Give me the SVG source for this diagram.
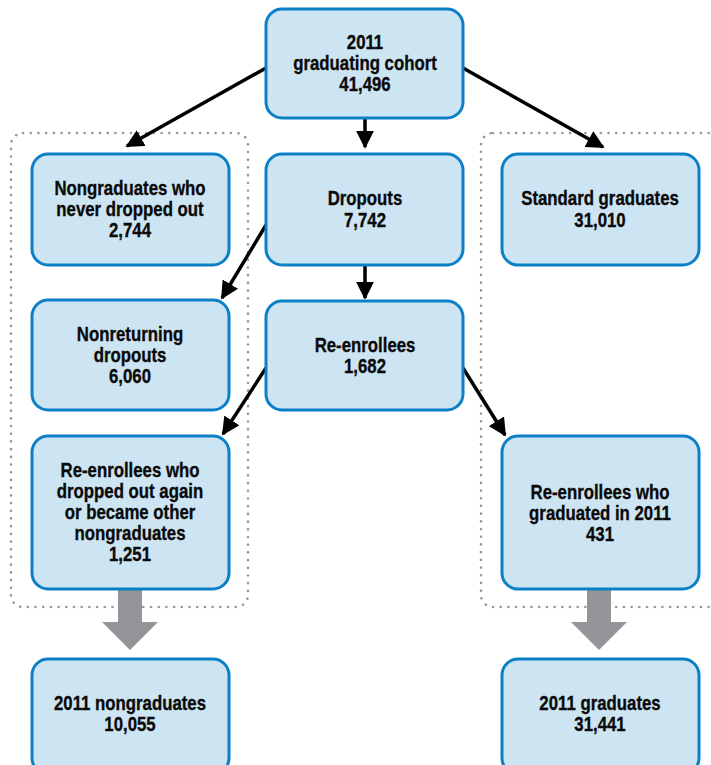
<svg xmlns="http://www.w3.org/2000/svg" width="711" height="765" viewBox="0 0 711 765">
<style>
.box{fill:#cde5f3;stroke:#0b80c6;stroke-width:3}
.grp{fill:none;stroke:#999;stroke-width:2.6;stroke-dasharray:0.1 7.6;stroke-linecap:round}
.t{font-family:"Liberation Sans",Arial,sans-serif;font-weight:bold;font-size:20px;fill:#0a0a0a;stroke:#0a0a0a;stroke-width:0.35;text-anchor:middle;dominant-baseline:central}
.c{stroke:#000;stroke-width:3.5;fill:none;marker-end:url(#ah)}
.big{fill:#939598}
</style>
<defs>
<marker id="ah" viewBox="0 0 10 10" refX="9" refY="5" markerUnits="userSpaceOnUse" markerWidth="18" markerHeight="18" orient="auto">
<path d="M0,0 L10,5 L0,10 z" fill="#000"/>
</marker>
</defs>
<g id="groups">
<rect class="grp" x="11" y="133" width="237" height="474" rx="12"/>
<rect class="grp" x="481" y="133" width="250" height="474" rx="12"/>
</g>
<g id="connectors">
<line class="c" x1="266" y1="68" x2="127" y2="146"/>
<line class="c" x1="463" y1="68" x2="603" y2="147"/>
<line class="c" x1="365" y1="118" x2="365" y2="147"/>
<line class="c" x1="266" y1="225" x2="222" y2="298"/>
<line class="c" x1="365" y1="265" x2="365" y2="298"/>
<line class="c" x1="266" y1="368" x2="223" y2="434"/>
<line class="c" x1="463" y1="368" x2="505" y2="435"/>
<path class="big" d="M118,589 H142 V622 H158 L130,650 L102,622 H118 Z"/>
<path class="big" d="M587,589 H611 V622 H627 L599,650 L571,622 H587 Z"/>
</g>
<g id="cohort">
<rect class="box" x="266" y="9" width="197" height="109" rx="16"/>
<g transform="translate(365,0) scale(0.84,1)">
<text class="t" x="0" y="42">2011</text>
<text class="t" x="0" y="63">graduating cohort</text>
<text class="t" x="0" y="84">41,496</text>
</g>
</g>
<g id="nevdrop">
<rect class="box" x="32" y="154" width="197" height="111" rx="16"/>
<g transform="translate(130,0) scale(0.84,1)">
<text class="t" x="0" y="188">Nongraduates who</text>
<text class="t" x="0" y="209">never dropped out</text>
<text class="t" x="0" y="230">2,744</text>
</g>
</g>
<g id="dropouts">
<rect class="box" x="266" y="154" width="197" height="111" rx="16"/>
<g transform="translate(365,0) scale(0.84,1)">
<text class="t" x="0" y="198">Dropouts</text>
<text class="t" x="0" y="220">7,742</text>
</g>
</g>
<g id="standard">
<rect class="box" x="502" y="154" width="197" height="111" rx="16"/>
<g transform="translate(600,0) scale(0.84,1)">
<text class="t" x="0" y="198">Standard graduates</text>
<text class="t" x="0" y="220">31,010</text>
</g>
</g>
<g id="nonreturning">
<rect class="box" x="32" y="300" width="197" height="110" rx="16"/>
<g transform="translate(130,0) scale(0.84,1)">
<text class="t" x="0" y="334">Nonreturning</text>
<text class="t" x="0" y="355">dropouts</text>
<text class="t" x="0" y="376">6,060</text>
</g>
</g>
<g id="reenrollees">
<rect class="box" x="266" y="301" width="197" height="109" rx="16"/>
<g transform="translate(365,0) scale(0.84,1)">
<text class="t" x="0" y="345">Re-enrollees</text>
<text class="t" x="0" y="366">1,682</text>
</g>
</g>
<g id="redropped">
<rect class="box" x="32" y="436" width="197" height="153" rx="16"/>
<g transform="translate(130,0) scale(0.84,1)">
<text class="t" x="0" y="470">Re-enrollees who</text>
<text class="t" x="0" y="491">dropped out again</text>
<text class="t" x="0" y="512">or became other</text>
<text class="t" x="0" y="533">nongraduates</text>
<text class="t" x="0" y="554">1,251</text>
</g>
</g>
<g id="regrad">
<rect class="box" x="502" y="436" width="197" height="153" rx="16"/>
<g transform="translate(600,0) scale(0.84,1)">
<text class="t" x="0" y="492">Re-enrollees who</text>
<text class="t" x="0" y="513">graduated in 2011</text>
<text class="t" x="0" y="534">431</text>
</g>
</g>
<g id="nongrads">
<rect class="box" x="32" y="659" width="197" height="115" rx="16"/>
<g transform="translate(130,0) scale(0.84,1)">
<text class="t" x="0" y="703">2011 nongraduates</text>
<text class="t" x="0" y="724">10,055</text>
</g>
</g>
<g id="grads">
<rect class="box" x="502" y="659" width="197" height="115" rx="16"/>
<g transform="translate(600,0) scale(0.84,1)">
<text class="t" x="0" y="703">2011 graduates</text>
<text class="t" x="0" y="724">31,441</text>
</g>
</g>
</svg>
